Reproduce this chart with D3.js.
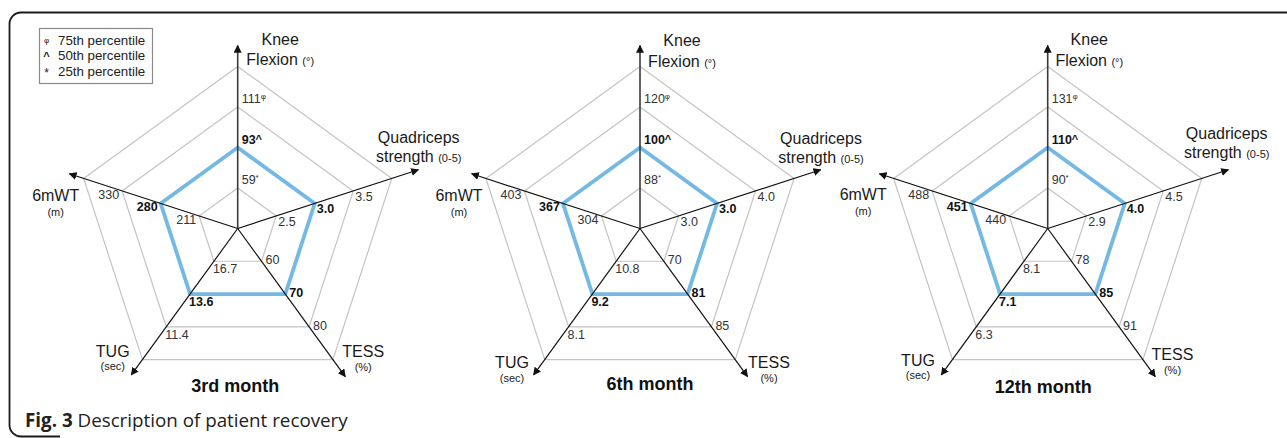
<!DOCTYPE html>
<html>
<head>
<meta charset="utf-8">
<script src="https://cdn.jsdelivr.net/npm/d3@7"></script>
<style>
  html, body { margin: 0; padding: 0; background: #fff; }
  svg { display: block; }
</style>
</head>
<body>
<svg id="chart" width="1287" height="438" font-family="'Liberation Sans', Arial, Helvetica, sans-serif"></svg>
<script>
// ---------------- DATA ----------------
const axisTitles = ["Knee", "Quadriceps", "TESS", "TUG", "6mWT"];
const axisSubtitles = ["Flexion", "strength", "", "", ""];
const axisUnits = ["(°)", "(0-5)", "(%)", "(sec)", "(m)"];
const axisDecimals = [0, 1, 0, 1, 0];
const months = ["3rd month", "6th month", "12th month"];
const percentiles = [25, 50, 75];
const gridLevels = [25, 50, 75, 100];
const legendSymbols = ["φ", "^", "*"];
const legendLabels = ["75th percentile", "50th percentile", "25th percentile"];
// values per month, in axis order: Knee, Quadriceps, TESS, TUG, 6mWT
const p25 = [[59, 2.5, 60, 16.7, 211], [88, 3.0, 70, 10.8, 304], [90, 2.9, 78, 8.1, 440]];
const p50 = [[93, 3.0, 70, 13.6, 280], [100, 3.0, 81, 9.2, 367], [110, 4.0, 85, 7.1, 451]];
const p75 = [[111, 3.5, 80, 11.4, 330], [120, 4.0, 85, 8.1, 403], [131, 4.5, 91, 6.3, 488]];
const captionBold = "Fig. 3";
const captionText = " Description of patient recovery";

// ---------------- LAYOUT ----------------
const svg = d3.select("#chart");
const centersX = [237.7, 640, 1047.7];
const centerY = 228.5;
const rScale = d3.scaleLinear().domain([0, 100]).range([0, 162]);
const aScale = d3.scaleLinear().domain([0, axisTitles.length]).range([0, 2 * Math.PI]);
const arrowLen = [183, 190, 183, 181, 177];
const blue = "#74b8e4";
const grid = "#c4c4c4";

// per-axis label placement (relative to vertex)
const tickPlace = [
  {anchor: "start", dx: 4, dy: -4},
  {anchor: "start", dx: 2, dy: 10},
  {anchor: "start", dx: 4, dy: 3},
  {anchor: "start", dx: -1, dy: 12},
  {anchor: "end", dx: -3, dy: 8}
];
// per-chart axis-title placement: [dx, baseline1, baseline2]
const titlePlace = [
  [[42.5, 45, 64.5], [181, 143, 162], [125.5, 356.7, 371], [-125, 356.7, 370], [-182, 200.5, 215.5], [-2.5, 391.5]],
  [[42, 46.4, 66.5], [181, 143.5, 162.5], [129, 367.7, 382], [-128, 367.7, 382], [-181, 200.5, 215.5], [10, 390]],
  [[41.6, 45, 65.5], [179, 139, 158], [124.8, 360, 374], [-129.7, 366, 379], [-184.5, 200, 214.5], [-4.4, 392.5]]
];

// border
svg.append("path")
  .attr("d", "M1290,12.5 H21 A11.5,11.5 0 0 0 9.5,24 V425 A11.5,11.5 0 0 0 21,436.5 H60")
  .attr("fill", "none").attr("stroke", "#1a1a1a").attr("stroke-width", 1.8);

// arrow marker
const defs = svg.append("defs");
defs.append("marker")
  .attr("id", "arrow").attr("viewBox", "0 0 10 10")
  .attr("refX", 9).attr("refY", 5)
  .attr("markerWidth", 8).attr("markerHeight", 8)
  .attr("markerUnits", "userSpaceOnUse")
  .attr("orient", "auto")
  .append("path").attr("d", "M0,0 L10,5 L0,10 z").attr("fill", "#111");

const radialLine = d3.lineRadial()
  .angle((d, i) => aScale(i))
  .radius(d => rScale(d))
  .curve(d3.curveLinearClosed);

function pt(i, r, cx) {
  const a = aScale(i);
  return [cx + r * Math.sin(a), centerY - r * Math.cos(a)];
}

const dataSets = {25: p25, 50: p50, 75: p75};
const markerFor = {25: "*", 50: "^", 75: "φ"};

months.forEach((m, mi) => {
  const cx = centersX[mi];
  const g = svg.append("g");
  const gr = g.append("g").attr("transform", `translate(${cx},${centerY})`);

  // grid pentagons
  gridLevels.forEach(lv => {
    gr.append("path")
      .attr("d", radialLine(axisTitles.map(() => lv)))
      .attr("fill", "none").attr("stroke", grid).attr("stroke-width", 1.2);
  });

  // median polygon
  gr.append("path")
    .attr("d", radialLine(axisTitles.map(() => 50)))
    .attr("fill", "none").attr("stroke", blue).attr("stroke-width", 3.8)
    .attr("stroke-linejoin", "miter");

  // axes
  axisTitles.forEach((t, i) => {
    const [x2, y2] = pt(i, arrowLen[i], cx);
    g.append("line")
      .attr("x1", cx).attr("y1", centerY).attr("x2", x2).attr("y2", y2)
      .attr("stroke", i === 0 ? "#3a3a3a" : "#111")
      .attr("stroke-width", i === 0 ? 1.6 : 1.2)
      .attr("marker-end", "url(#arrow)");
  });

  // tick labels
  axisTitles.forEach((t, i) => {
    const fmt = d3.format("." + axisDecimals[i] + "f");
    percentiles.forEach(p => {
      const v = dataSets[p][mi][i];
      const [x, y] = pt(i, rScale(p), cx);
      const tp = tickPlace[i];
      const txt = g.append("text")
        .attr("x", x + tp.dx).attr("y", y + tp.dy)
        .attr("text-anchor", tp.anchor)
        .attr("font-size", 12.5)
        .attr("font-weight", p === 50 ? "bold" : "normal")
        .attr("fill", p === 50 ? "#111" : "#333");
      txt.append("tspan").text(fmt(v));
      if (i === 0) {
        if (p === 50) {
          txt.append("tspan").attr("font-size", 11).attr("dy", -1).text(markerFor[p]);
        } else {
          txt.append("tspan").attr("font-size", 8).attr("dy", -4).text(markerFor[p]);
        }
      }
    });
  });

  // axis titles
  const tpl = titlePlace[mi];
  axisTitles.forEach((t, i) => {
    const [dx, b1, b2] = tpl[i];
    g.append("text").attr("x", cx + dx).attr("y", b1)
      .attr("text-anchor", "middle").attr("font-size", 16).attr("fill", "#1a1a1a")
      .text(t);
    if (axisSubtitles[i]) {
      const s = g.append("text").attr("x", cx + dx).attr("y", b2)
        .attr("text-anchor", "middle").attr("font-size", 16).attr("fill", "#1a1a1a");
      s.append("tspan").text(axisSubtitles[i] + " ");
      s.append("tspan").attr("font-size", 11).text(axisUnits[i]);
    } else {
      g.append("text").attr("x", cx + dx).attr("y", b2)
        .attr("text-anchor", "middle").attr("font-size", 11).attr("fill", "#1a1a1a")
        .text(axisUnits[i]);
    }
  });

  // month title
  g.append("text").attr("x", cx + tpl[5][0]).attr("y", tpl[5][1])
    .attr("text-anchor", "middle").attr("font-size", 18).attr("font-weight", "bold")
    .attr("fill", "#111").text(m);
});

// legend
const lg = svg.append("g");
lg.append("rect").attr("x", 39.5).attr("y", 28.5).attr("width", 113).attr("height", 55)
  .attr("fill", "#fff").attr("stroke", "#8a8a8a").attr("stroke-width", 1.2);
legendLabels.forEach((l, i) => {
  const y = 44.5 + i * 15.5;
  lg.append("text").attr("x", 46.5).attr("y", i === 0 ? y - 2 : (i === 2 ? y + 1 : y))
    .attr("text-anchor", "middle")
    .attr("font-size", i === 0 ? 8 : (i === 1 ? 11 : 12))
    .attr("font-weight", i === 1 ? "bold" : "normal")
    .attr("fill", "#222").text(legendSymbols[i]);
  lg.append("text").attr("x", 58).attr("y", y).attr("font-size", 13.3).attr("fill", "#222").text(l);
});

// caption
const cap = svg.append("text").attr("x", 25).attr("y", 427)
  .attr("font-size", 18.8).attr("fill", "#222")
  .attr("font-family", "'Open Sans', 'Noto Sans', sans-serif");
cap.append("tspan").attr("font-weight", "bold").text(captionBold);
cap.append("tspan").text(captionText);
</script>
</body>
</html>
